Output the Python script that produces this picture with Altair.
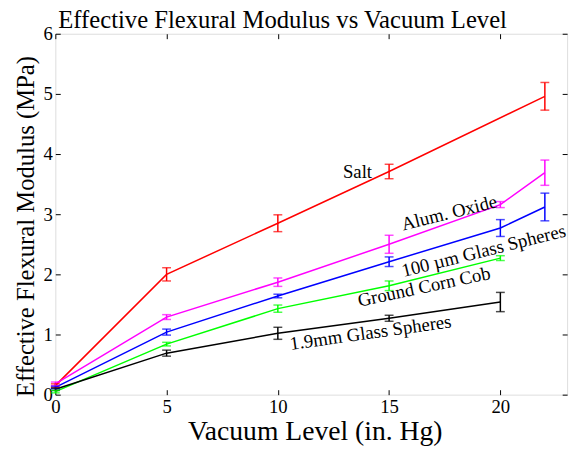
import altair as alt
import pandas as pd

# ---- data ----
series_names = ["Salt", "Alum. Oxide", "100 µm Glass Spheres", "Ground Corn Cob", "1.9mm Glass Spheres"]
series_colors = ["#ff0000", "#ff00ff", "#0000ff", "#00ff00", "#000000"]

salt_x = [0, 5, 10, 15, 22]
salt_y = [0.15, 2.00, 2.85, 3.71, 4.96]
salt_e = [0.03, 0.11, 0.14, 0.12, 0.23]

alum_x = [0, 5, 10, 15, 20, 22]
alum_y = [0.18, 1.29, 1.87, 2.50, 3.16, 3.69]
alum_e = [0.03, 0.04, 0.07, 0.15, 0.05, 0.21]

glass100_x = [0, 5, 10, 15, 20, 22]
glass100_y = [0.12, 1.04, 1.64, 2.21, 2.77, 3.12]
glass100_e = [0.02, 0.05, 0.03, 0.08, 0.14, 0.23]

corn_x = [0, 5, 10, 15, 20]
corn_y = [0.05, 0.84, 1.43, 1.81, 2.27]
corn_e = [0.02, 0.03, 0.06, 0.08, 0.04]

glass19_x = [0, 5, 10, 15, 20]
glass19_y = [0.09, 0.69, 1.02, 1.27, 1.54]
glass19_e = [0.02, 0.05, 0.10, 0.05, 0.16]

x_ticks = [0, 5, 10, 15, 20]
y_ticks = [0, 1, 2, 3, 4, 5, 6]

# annotation labels (data coordinates) and rotation
label_text = ["Salt", "Alum. Oxide", "100 µm Glass Spheres", "Ground Corn Cob", "1.9mm Glass Spheres"]
label_x = [13.58, 17.70, 19.25, 16.57, 14.17]
label_y = [3.70, 3.02, 2.39, 1.79, 1.03]
label_angle = [0, 346, 346, 348, 352]

# ---- build table ----
rows = []
for name, xs, ys, es in zip(
    series_names,
    [salt_x, alum_x, glass100_x, corn_x, glass19_x],
    [salt_y, alum_y, glass100_y, corn_y, glass19_y],
    [salt_e, alum_e, glass100_e, corn_e, glass19_e],
):
    for xv, yv, ev in zip(xs, ys, es):
        rows.append({"series": name, "x": xv, "y": yv, "lo": yv - ev, "hi": yv + ev})
df = pd.DataFrame(rows)
labels = pd.DataFrame({"text": label_text, "x": label_x, "y": label_y, "angle": label_angle})

FONT = "Liberation Serif"
xscale = alt.Scale(domain=[0, 23], nice=False, zero=False)
yscale = alt.Scale(domain=[0, 6], nice=False)
color = alt.Color("series:N", scale=alt.Scale(domain=series_names, range=series_colors), legend=None)

base = alt.Chart(df)

lines = base.mark_line(strokeWidth=1.5).encode(
    x=alt.X("x:Q", scale=xscale, title="Vacuum Level (in. Hg)",
            axis=alt.Axis(orient="bottom", values=x_ticks, offset=-5, tickSize=5, domain=False,
                          grid=False, labelPadding=3, titlePadding=1, labelFontSize=19,
                          titleFontSize=28, labelFont=FONT, titleFont=FONT, titleFontWeight="normal",
                          labelColor="black", titleColor="black", tickColor="black", labelFlush=False,
                          titleX=263)),
    y=alt.Y("y:Q", scale=yscale, title="Effective Flexural Modulus (MPa)",
            axis=alt.Axis(orient="left", values=y_ticks, offset=-5, tickSize=5, domain=False,
                          grid=False, labelPadding=3, titlePadding=5, labelFontSize=19,
                          titleFontSize=25, labelFont=FONT, titleFont=FONT, titleFontWeight="normal",
                          labelColor="black", titleColor="black", tickColor="black", labelFlush=False,
                          titleY=195)),
    color=color,
    order="x:Q",
)

errs = base.mark_rule(strokeWidth=1.5).encode(
    x=alt.X("x:Q", scale=xscale,
            axis=alt.Axis(orient="top", values=x_ticks, offset=-5, tickSize=5, domain=False,
                          grid=False, labels=False, title=None, tickColor="black")),
    y=alt.Y("lo:Q", scale=yscale,
            axis=alt.Axis(orient="right", values=y_ticks, offset=-5, tickSize=5, domain=False,
                          grid=False, labels=False, title=None, tickColor="black")),
    y2="hi:Q",
    color=color,
)

caps_lo = base.mark_tick(orient="horizontal", size=9, thickness=1.5).encode(
    x=alt.X("x:Q", scale=xscale, axis=None),
    y=alt.Y("lo:Q", scale=yscale, axis=None),
    color=color,
)
caps_hi = base.mark_tick(orient="horizontal", size=9, thickness=1.5).encode(
    x=alt.X("x:Q", scale=xscale, axis=None),
    y=alt.Y("hi:Q", scale=yscale, axis=None),
    color=color,
)

texts = alt.Chart(labels).mark_text(font=FONT, fontSize=19, color="black", baseline="middle", align="center").encode(
    x=alt.X("x:Q", scale=xscale, axis=None),
    y=alt.Y("y:Q", scale=yscale, axis=None),
    text="text:N",
    angle=alt.Angle("angle:Q", scale=None),
)

chart = alt.layer(lines, errs, caps_lo, caps_hi, texts).resolve_axis(
    x="independent", y="independent"
).properties(
    width=519,
    height=366,
    title=alt.TitleParams("Effective Flexural Modulus vs Vacuum Level", font=FONT, fontSize=25,
                          fontWeight="normal", color="black", anchor="middle", dx=-29, dy=14, offset=6),
    autosize=alt.AutoSizeParams(type="none"),
    padding={"left": 48, "top": 23, "right": 8, "bottom": 52},
).configure_view(
    stroke="black", strokeWidth=1.5
).configure_axis(
    labelFont=FONT, titleFont=FONT
).configure(background="white")

chart.save("out.html", embed_options={"renderer": "svg", "actions": False})
